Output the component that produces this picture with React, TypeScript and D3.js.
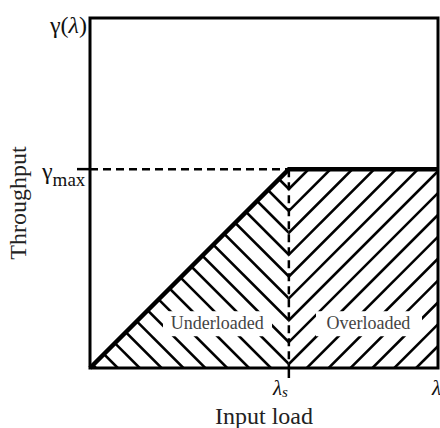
import React from "react";
import * as d3 from "d3";

// Throughput curve (normalized units: lambda_s = 1, gamma_max = 1)
const loads = [0, 1, 1.75];
const throughput = [0, 1, 1];
const xDomain = [0, 1.75];
const yDomain = [0, 1.76];
const lambdaS = 1;
const gammaMax = 1;
const regionLabels = ["Underloaded", "Overloaded"];
const regionLabelX = [0.64, 1.4];
const regionLabelY = [0.205, 0.205];
const hatchOffsets = d3.range(-10, 10).map((k) => 0.02 + 0.11 * k);

const W = 440;
const H = 428;
const L = 90, R = 438, T = 18, B = 368;

export default function App() {
  const x = d3.scaleLinear().domain(xDomain).range([L, R]);
  const y = d3.scaleLinear().domain(yDomain).range([B, T]);
  const line = d3
    .line<[number, number]>()
    .x((d) => x(d[0]))
    .y((d) => y(d[1]));

  const curve = line(loads.map((l, i) => [l, throughput[i]] as [number, number]));

  const leftClip = line([
    [0, 0],
    [lambdaS, gammaMax],
    [lambdaS, 0],
  ]) + "Z";
  const rightClip = line([
    [lambdaS, 0],
    [lambdaS, gammaMax],
    [xDomain[1], gammaMax],
    [xDomain[1], 0],
  ]) + "Z";

  const leftLines = hatchOffsets.map((vk) =>
    line([
      [-1, vk + 2],
      [2, vk - 1],
    ])
  );
  const rightLines = hatchOffsets.map((vk) =>
    line([
      [0, vk - 1],
      [3, vk + 2],
    ])
  );

  const font = "Liberation Serif, Times New Roman, serif";
  const boxes = [
    { x0: 163, x1: 272 },
    { x0: 316, x1: 422 },
  ];

  return (
    <svg
      width={W}
      height={H}
      style={{ position: "absolute", left: 0, top: 0, background: "#fff" }}
    >
      <rect x={0} y={0} width={W} height={H} fill="#fff" />
      <defs>
        <clipPath id="clipL">
          <path d={leftClip} />
        </clipPath>
        <clipPath id="clipR">
          <path d={rightClip} />
        </clipPath>
      </defs>
      <g clipPath="url(#clipL)" stroke="#000" strokeWidth={2.6}>
        {leftLines.map((d, i) => (
          <path key={i} d={d!} fill="none" />
        ))}
      </g>
      <g clipPath="url(#clipR)" stroke="#000" strokeWidth={2.6}>
        {rightLines.map((d, i) => (
          <path key={i} d={d!} fill="none" />
        ))}
      </g>
      {regionLabels.map((t, i) => (
        <g key={t}>
          <rect
            x={boxes[i].x0}
            y={y(regionLabelY[i]) - 16}
            width={boxes[i].x1 - boxes[i].x0}
            height={25}
            fill="#fff"
          />
          <text
            x={x(regionLabelX[i])}
            y={y(regionLabelY[i]) + 2}
            textAnchor="middle"
            fontSize={18}
            fill="#444"
            style={{ fontFamily: font }}
          >
            {t}
          </text>
        </g>
      ))}
      <rect
        x={L}
        y={T}
        width={R - L}
        height={B - T}
        fill="none"
        stroke="#000"
        strokeWidth={3}
      />
      <line
        x1={x(0)}
        x2={x(lambdaS)}
        y1={y(gammaMax)}
        y2={y(gammaMax)}
        stroke="#000"
        strokeWidth={2.5}
        strokeDasharray="8,5"
      />
      <line
        x1={x(lambdaS)}
        x2={x(lambdaS)}
        y1={y(gammaMax)}
        y2={y(0)}
        stroke="#000"
        strokeWidth={2.5}
        strokeDasharray="8,5"
      />
      <line x1={L - 13} x2={L} y1={y(gammaMax)} y2={y(gammaMax)} stroke="#000" strokeWidth={2.5} />
      <line x1={x(lambdaS)} x2={x(lambdaS)} y1={B} y2={B + 10} stroke="#000" strokeWidth={2.5} />
      <path d={curve!} fill="none" stroke="#000" strokeWidth={4.5} strokeLinejoin="miter" />
      <text x={87} y={33} textAnchor="end" fontSize={24} fill="#111" style={{ fontFamily: font }}>
        γ(<tspan fontStyle="italic">λ</tspan>)
      </text>
      <text x={42} y={179} fontSize={24} fill="#111" style={{ fontFamily: font }}>
        γ
        <tspan fontSize={19} dy={7}>
          max
        </tspan>
      </text>
      <text x={273} y={395} fontSize={21} fontStyle="italic" fill="#111" style={{ fontFamily: font }}>
        λ
        <tspan fontSize={15} dy={2}>
          s
        </tspan>
      </text>
      <text x={432} y={395} fontSize={21} fontStyle="italic" fill="#111" style={{ fontFamily: font }}>
        λ
      </text>
      <text
        transform={`translate(26,${(T + B) / 2 + 10}) rotate(-90)`}
        textAnchor="middle"
        fontSize={24}
        fill="#222"
        style={{ fontFamily: font }}
      >
        Throughput
      </text>
      <text x={264} y={424} textAnchor="middle" fontSize={24} fill="#222" style={{ fontFamily: font }}>
        Input load
      </text>
    </svg>
  );
}
